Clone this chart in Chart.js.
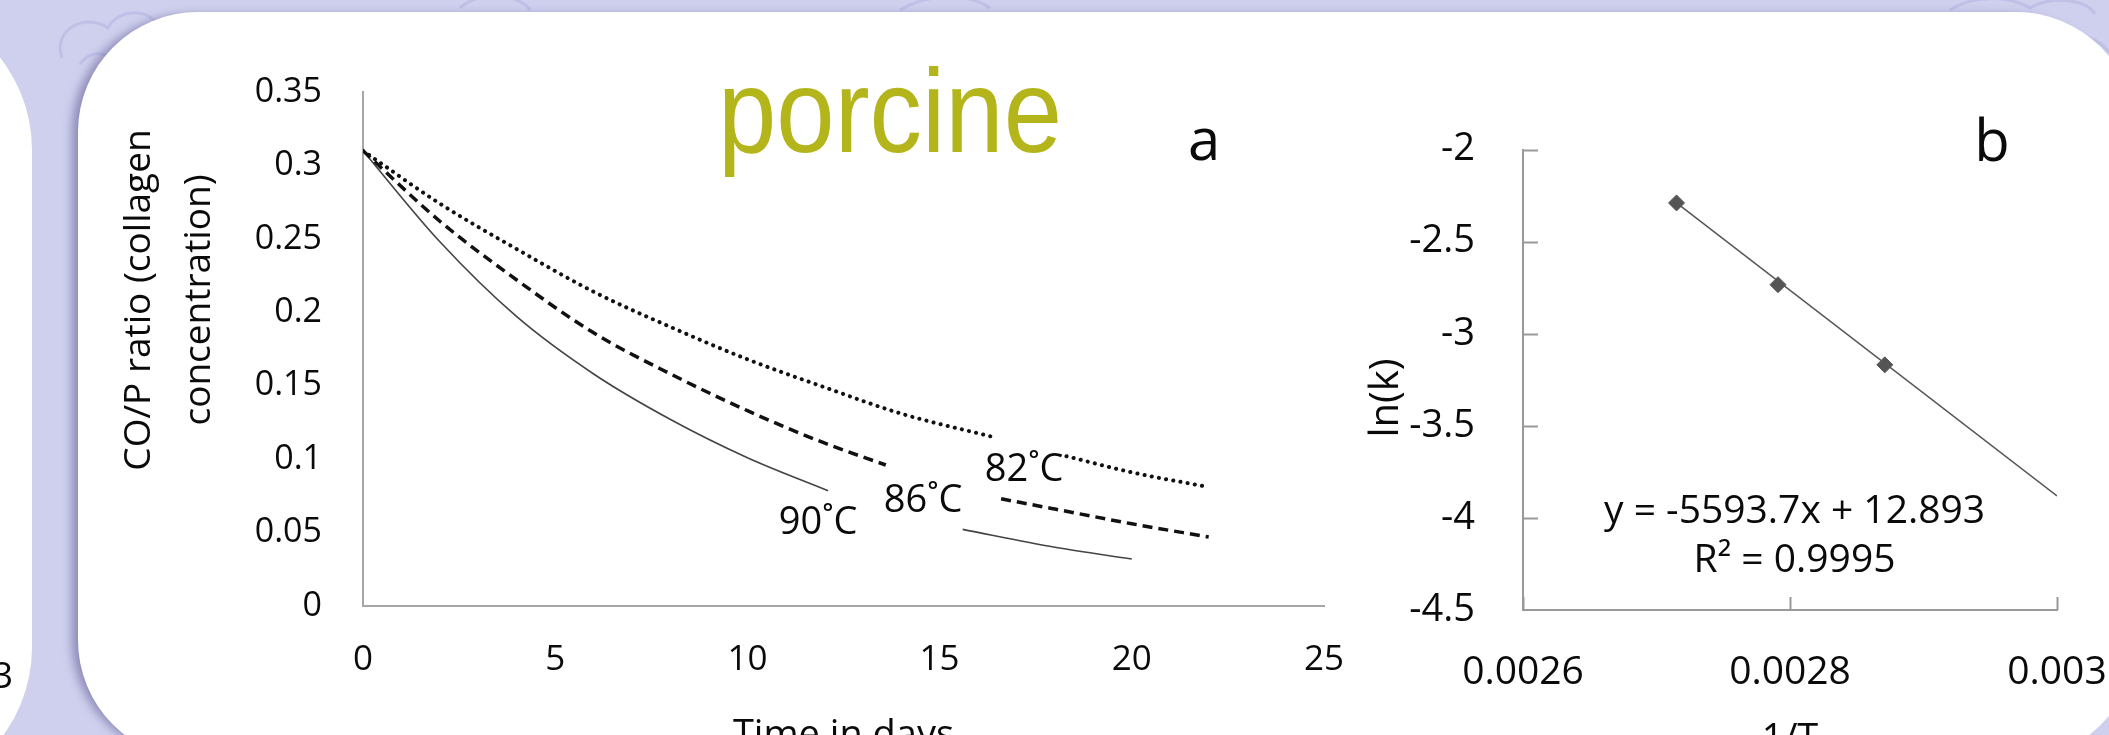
<!DOCTYPE html>
<html>
<head>
<meta charset="utf-8">
<script src="https://cdn.jsdelivr.net/npm/chart.js@4.4.1/dist/chart.umd.min.js"></script>
<style>
  html, body { margin: 0; padding: 0; width: 2109px; height: 735px; overflow: hidden; background: #cfcfee; }
  #swirls { position: absolute; left: 0; top: 0; }
  .panel { position: absolute; background: #fff; }
  #leftPanel { left: -300px; top: 0; width: 332px; height: 797px; border-radius: 150px; }
  #mainPanel { left: 78px; top: 12px; width: 2058px; height: 748px; border-radius: 120px;
               box-shadow: -9px 0 10px -3px rgba(95, 95, 150, 0.6); }
  canvas { position: absolute; top: 0; }
  #chartA { left: 0; }
  #chartB { left: 1300px; }
</style>
</head>
<body>
<svg id="swirls" width="2109" height="735">
  <g fill="none" stroke="#bfc0e6" stroke-width="3">
    <path d="M62,58 C52,30 85,12 108,28 C118,6 160,8 158,34 C178,30 186,52 170,62"/>
    <path d="M80,64 C92,48 112,52 110,66"/>
    <path d="M460,8 C480,-10 520,-6 530,10"/>
    <path d="M900,10 C930,-8 970,-6 990,8"/>
    <path d="M1950,10 C1975,-6 2010,-4 2030,8 C2050,-4 2085,-2 2095,14"/>
    <path d="M2060,40 C2080,30 2100,40 2109,52"/>
  </g>
</svg>
<div class="panel" id="leftPanel"></div>
<div class="panel" id="mainPanel"></div>
<canvas id="chartA" width="1400" height="800" style="width:1400px;height:800px"></canvas>
<canvas id="chartB" width="900" height="800" style="width:900px;height:800px"></canvas>
<script>
// Chart a: CO/P ratio vs time (null = gap left for the label)
const days82 = [0, 2, 4, 6, 8, 10, 12, 14, 16.4, 17.3, 18.3, 20, 22];
const ratio82 = [0.31, 0.274, 0.243, 0.214, 0.190, 0.168, 0.149, 0.131, 0.115, null, 0.102, 0.091, 0.081];
const days86 = [0, 2, 4, 6, 8, 10, 12, 13.6, 15, 16.6, 18, 20, 22];
const ratio86 = [0.31, 0.262, 0.222, 0.186, 0.158, 0.133, 0.111, 0.096, null, 0.073, 0.066, 0.056, 0.047];
const days90 = [0, 2, 4, 6, 8, 10, 12.1, 14, 15.6, 18, 20];
const ratio90 = [0.31, 0.248, 0.197, 0.158, 0.127, 0.101, 0.0785, null, 0.0522, 0.040, 0.032];
const tempLabels = [
    {text: '82˚C', x: 17.2, y: 0.0853},
    {text: '86˚C', x: 14.57, y: 0.0642},
    {text: '90˚C', x: 11.84, y: 0.049}
];

// Chart b: Arrhenius plot
const invT = [0.002715, 0.002791, 0.002871];
const lnK = [-2.29, -2.734, -3.169];
const trendX = [0.002715, 0.003];
const trendY = [-2.29, -3.881];
const fitText = ['y = -5593.7x + 12.893', 'R² = 0.9995'];

const FONT = "'Open Sans', 'DejaVu Sans', sans-serif";
let charts = {};

function toPoints(xs, ys) {
    return xs.map((x, i) => ({x: x, y: ys[i]}));
}

function drawText(ctx, text, x, y, font, align, color, rotate, width) {
    ctx.save();
    ctx.font = font;
    ctx.fillStyle = color || '#0a0a0a';
    ctx.textAlign = align || 'center';
    ctx.textBaseline = 'alphabetic';
    ctx.translate(x, y);
    if (rotate) ctx.rotate(rotate);
    // squeeze to a given width (narrow title face)
    if (width) ctx.scale(width / ctx.measureText(text).width, 1);
    ctx.fillText(text, 0, 0);
    ctx.restore();
}

const textsA = {
    id: 'textsA',
    afterDraw(chart) {
        const ctx = chart.ctx;
        const xs = chart.scales.x, ys = chart.scales.y;
        tempLabels.forEach(l => {
            drawText(ctx, l.text, xs.getPixelForValue(l.x), ys.getPixelForValue(l.y), '38px ' + FONT);
        });
        drawText(ctx, 'porcine', 890, 152, '118px "Liberation Sans", Arial, sans-serif', 'center', '#b3b51a', 0, 344);
        drawText(ctx, 'a', 1204, 160, '58px ' + FONT);
        drawText(ctx, 'CO/P ratio (collagen', 150, 300, '37px ' + FONT, 'center', '#0a0a0a', -Math.PI / 2);
        drawText(ctx, 'concentration)', 210, 300, '37px ' + FONT, 'center', '#0a0a0a', -Math.PI / 2);
        // bit of the neighbouring panel
        drawText(ctx, '0.003', 13, 688, '36px ' + FONT, 'right');
    }
};

const textsB = {
    id: 'textsB',
    afterDraw(chart) {
        const ctx = chart.ctx;
        const xs = chart.scales.x, ys = chart.scales.y;
        const area = chart.chartArea;
        // inward tick marks
        ctx.save();
        ctx.strokeStyle = '#999';
        ctx.lineWidth = 2;
        ctx.beginPath();
        ys.ticks.forEach(t => {
            if (t.value <= -4.5) return;
            const py = Math.round(ys.getPixelForValue(t.value)) + 0.5;
            ctx.moveTo(area.left, py);
            ctx.lineTo(area.left + 15, py);
        });
        xs.ticks.forEach(t => {
            const px = Math.round(xs.getPixelForValue(t.value)) + 0.5;
            ctx.moveTo(px, area.bottom);
            ctx.lineTo(px, area.bottom - 13);
        });
        ctx.stroke();
        ctx.restore();
        const cx = xs.getPixelForValue(0.0028034);
        drawText(ctx, fitText[0], cx, ys.getPixelForValue(-4.028), '39px ' + FONT);
        drawText(ctx, fitText[1], cx, ys.getPixelForValue(-4.294), '39px ' + FONT);
        drawText(ctx, 'b', 1992 - 1300, 161, '58px ' + FONT);
        drawText(ctx, 'ln(k)', 1398 - 1300, 398, '40px ' + FONT, 'center', '#0a0a0a', -Math.PI / 2);
    }
};

function axisStyle(color) {
    return {
        grid: {drawOnChartArea: false, drawTicks: false},
        border: {display: true, color: color, width: 2}
    };
}

charts.a = new Chart(document.getElementById('chartA').getContext('2d'), {
    type: 'line',
    data: {
        datasets: [
            {label: '82˚C', data: toPoints(days82, ratio82), borderColor: '#111', borderWidth: 4,
             borderDash: [0.1, 7.2], borderCapStyle: 'round'},
            {label: '86˚C', data: toPoints(days86, ratio86), borderColor: '#111', borderWidth: 3.5,
             borderDash: [10, 6]},
            {label: '90˚C', data: toPoints(days90, ratio90), borderColor: '#444', borderWidth: 1.6}
        ]
    },
    options: {
        responsive: false,
        animation: false,
        spanGaps: false,
        elements: {point: {radius: 0}, line: {cubicInterpolationMode: 'monotone', fill: false}},
        layout: {padding: {top: 92, right: 76, left: 0, bottom: 0}},
        plugins: {legend: {display: false}, tooltip: {enabled: false}},
        scales: {
            x: Object.assign({
                type: 'linear', min: 0, max: 25,
                ticks: {stepSize: 5, color: '#0a0a0a', padding: 33, font: {family: FONT, size: 35}},
                title: {display: true, text: 'Time in days', color: '#0a0a0a', font: {family: FONT, size: 38},
                        padding: {top: 0, bottom: 41}},
                afterFit: s => { s.height = 800 - 606; }
            }, axisStyle('#a6a6a6')),
            y: Object.assign({
                min: 0, max: 0.35,
                ticks: {stepSize: 0.05, color: '#0a0a0a', padding: 41, font: {family: FONT, size: 34},
                        callback: v => String(+v.toFixed(2))},
                afterFit: s => { s.width = 363; }
            }, axisStyle('#a6a6a6'))
        }
    },
    plugins: [textsA]
});

charts.b = new Chart(document.getElementById('chartB').getContext('2d'), {
    type: 'scatter',
    data: {
        datasets: [
            {label: 'ln(k)', data: toPoints(invT, lnK), pointStyle: 'rectRot', pointRadius: 8,
             backgroundColor: '#555', borderColor: '#555', showLine: false},
            {label: 'fit', data: toPoints(trendX, trendY), showLine: true, pointRadius: 0,
             borderColor: '#555', borderWidth: 1.5}
        ]
    },
    options: {
        responsive: false,
        animation: false,
        layout: {padding: {top: 149.5, right: 143, left: 0, bottom: 0}},
        plugins: {legend: {display: false}, tooltip: {enabled: false}},
        scales: {
            x: Object.assign({
                type: 'linear', min: 0.0026, max: 0.003,
                ticks: {stepSize: 0.0002, color: '#0a0a0a', padding: 39, font: {family: FONT, size: 39},
                        callback: v => String(parseFloat(v.toFixed(4)))},
                title: {display: true, text: '1/T', color: '#0a0a0a', font: {family: FONT, size: 38},
                        padding: {top: 0, bottom: 37}},
                afterFit: s => { s.height = 800 - 610; }
            }, axisStyle('#999')),
            y: Object.assign({
                min: -4.5, max: -2,
                ticks: {stepSize: 0.5, color: '#0a0a0a', padding: 48, font: {family: FONT, size: 38},
                        callback: v => String(+v.toFixed(1))},
                afterFit: s => { s.width = 223; }
            }, axisStyle('#999'))
        }
    },
    plugins: [textsB]
});
</script>
</body>
</html>
